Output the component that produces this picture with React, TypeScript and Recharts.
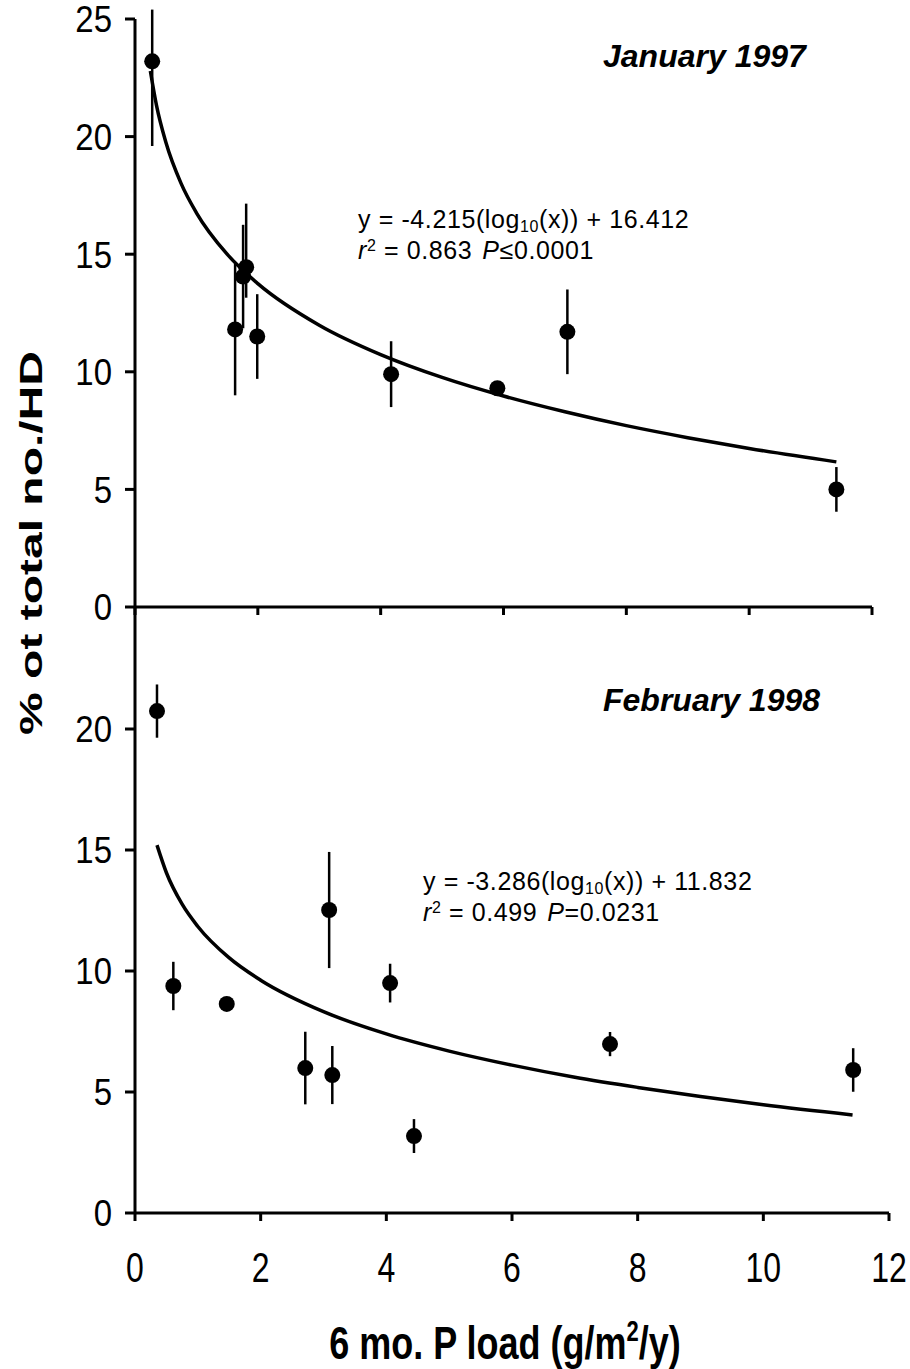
import { ComposedChart, Scatter, Line, XAxis, YAxis, ErrorBar, Customized } from "recharts"

// January 1997 panel: points, SE bars [down, up], fitted curve
const janX = [0.28, 1.63, 1.76, 1.81, 1.99, 4.17, 5.9, 7.04, 11.42]
const janY = [23.2, 11.8, 14.05, 14.45, 11.5, 9.9, 9.3, 11.7, 5.0]
const janErr = [[3.6, 2.2], [2.8, 2.8], [2.2, 2.2], [1.3, 2.7], [1.8, 1.8], [1.4, 1.4], [0, 0], [1.8, 1.8], [0.95, 0.95]]
const janFitX = [0.25, 0.35, 0.5, 0.75, 1, 1.5, 2, 3, 4, 5, 6, 7, 8, 9, 10, 11.42]
const janFitY = [22.79, 21.33, 19.78, 18.01, 16.76, 15.0, 13.75, 11.98, 10.73, 9.76, 8.97, 8.3, 7.71, 7.2, 6.74, 6.17]

// February 1998 panel
const febX = [0.35, 0.61, 1.46, 2.71, 3.09, 3.14, 4.06, 4.44, 7.56, 11.43]
const febY = [20.74, 9.38, 8.64, 5.99, 12.52, 5.7, 9.5, 3.18, 6.98, 5.91]
const febErr = [1.1, 1.0, 0, 1.5, 2.4, 1.2, 0.8, 0.7, 0.5, 0.9]
const febFitX = [0.35, 0.5, 0.75, 1, 1.5, 2, 3, 4, 5, 6, 7, 8, 9, 10, 11.42]
const febFitY = [15.2, 14.06, 12.76, 11.84, 10.54, 9.62, 8.32, 7.4, 6.69, 6.11, 5.61, 5.19, 4.81, 4.47, 4.05]

const xTicks = [0, 2, 4, 6, 8, 10, 12]
const janYTicks = [0, 5, 10, 15, 20, 25]
const febYTicks = [0, 5, 10, 15, 20]

const FONT = '"Liberation Sans", Arial, sans-serif'

const janPoints = janX.map((x, i) => ({ x, y: janY[i], err: janErr[i] }))
const janFit = janFitX.map((x, i) => ({ x, y: janFitY[i] }))
const febPoints = febX.map((x, i) => ({ x, y: febY[i], err: febErr[i] }))
const febFit = febFitX.map((x, i) => ({ x, y: febFitY[i] }))

const Dot = (props: any) => <circle cx={props.cx} cy={props.cy} r={8} fill="#000" />

const YTick = ({ x, y, payload }: any) => (
  <text transform={`translate(${x},${y}) scale(1,1.12)`} textAnchor="end" dy="0.36em" fontSize={33} fontFamily={FONT} fill="#000">
    {payload.value}
  </text>
)

const XTick = ({ x, y, payload }: any) => (
  <text transform={`translate(${x},${y}) scale(1,1.35)`} textAnchor="middle" dy="0.72em" fontSize={32} fontFamily={FONT} fill="#000">
    {payload.value}
  </text>
)

const XTitle = ({ viewBox }: any) => (
  <text transform={`translate(${viewBox.x + viewBox.width / 2 - 7},${viewBox.y + 146}) scale(1,1.3)`} textAnchor="middle" fontSize={36} fontWeight="bold" fontFamily={FONT} fill="#000">
    6 mo. P load (g/m<tspan dy={-14} fontSize={22}>2</tspan><tspan dy={14}>/y)</tspan>
  </text>
)

function Annotation({ x, y, title, titleX, titleY, slope, icept, r2, p }: any) {
  return (
    <g fontFamily={FONT} fill="#000">
      <text x={titleX} y={titleY} fontSize={32} fontWeight="bold" fontStyle="italic">{title}</text>
      <text x={x} y={y} fontSize={25} letterSpacing={0.6}>
        y = {slope}(log<tspan dy={4} fontSize={16}>10</tspan><tspan dy={-4}>(x)) + {icept}</tspan>
      </text>
      <text x={x} y={y + 31} fontSize={25} letterSpacing={0.6}>
        <tspan fontStyle="italic">r</tspan><tspan dy={-8} fontSize={16}>2</tspan><tspan dy={8}> = {r2}</tspan>
        <tspan dx={10} fontStyle="italic">P</tspan><tspan>{p}</tspan>
      </text>
    </g>
  )
}

const axisProps = {
  stroke: "#000",
  axisLine: { stroke: "#000", strokeWidth: 3 },
  tickLine: { stroke: "#000", strokeWidth: 3 },
}

export default function App() {
  return (
    <div style={{ position: "absolute", left: 0, top: 0, width: 910, height: 1369, background: "#fff" }}>
      <div style={{ position: "absolute", left: 0, top: 0 }}>
        <ComposedChart width={910} height={640} margin={{ top: 19, right: 38, bottom: 13, left: 75 }}>
          <XAxis type="number" dataKey="x" domain={[0, 12]} ticks={xTicks} tickFormatter={() => ""} tickSize={8} height={20} {...axisProps} />
          <YAxis type="number" domain={[0, 25]} ticks={janYTicks} allowDataOverflow width={60} tickSize={10} tickMargin={13} tick={<YTick />} {...axisProps} />
          <Line data={janFit} dataKey="y" type="monotone" stroke="#000" strokeWidth={3.5} dot={false} isAnimationActive={false} />
          <Scatter data={janPoints} dataKey="y" shape={<Dot />} isAnimationActive={false}>
            <ErrorBar dataKey="err" direction="y" width={0} stroke="#000" strokeWidth={2.5} />
          </Scatter>
          <Customized
            component={() => (
              <Annotation title="January 1997" titleX={603} titleY={67} x={358} y={228} slope="-4.215" icept="16.412" r2="0.863" p="≤0.0001" />
            )}
          />
        </ComposedChart>
      </div>
      <div style={{ position: "absolute", left: 0, top: 590 }}>
        <ComposedChart width={910} height={779} margin={{ top: 18, right: 21, bottom: 0, left: 75 }}>
          <XAxis type="number" dataKey="x" domain={[0, 12]} ticks={xTicks} tickSize={8} tickMargin={30} height={156} tick={<XTick />} label={<XTitle />} {...axisProps} />
          <YAxis type="number" domain={[0, 25]} ticks={febYTicks} allowDataOverflow width={60} tickSize={10} tickMargin={13} tick={<YTick />} {...axisProps} />
          <Line data={febFit} dataKey="y" type="monotone" stroke="#000" strokeWidth={3.5} dot={false} isAnimationActive={false} />
          <Scatter data={febPoints} dataKey="y" shape={<Dot />} isAnimationActive={false}>
            <ErrorBar dataKey="err" direction="y" width={0} stroke="#000" strokeWidth={2.5} />
          </Scatter>
          <Customized
            component={() => (
              <Annotation title="February 1998" titleX={603} titleY={121} x={423} y={300} slope="-3.286" icept="11.832" r2="0.499" p="=0.0231" />
            )}
          />
        </ComposedChart>
      </div>
      <svg width={70} height={1369} style={{ position: "absolute", left: 0, top: 0 }}>
        <text transform="translate(42,543) rotate(-90) scale(1.5,1)" textAnchor="middle" fontSize={32} fontWeight="bold" fontFamily={FONT} fill="#000">
          % ot total no./HD
        </text>
      </svg>
    </div>
  )
}
